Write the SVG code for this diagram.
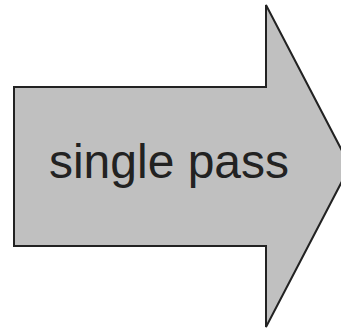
<svg xmlns="http://www.w3.org/2000/svg" width="341" height="329" viewBox="0 0 341 329">
<style>
.arrow{fill:#c0c0c0;stroke:#222222;stroke-width:2;stroke-linejoin:miter}
.label{font-family:"Liberation Sans",Arial,sans-serif;font-size:48px;fill:#222222;text-anchor:middle}
</style>
<rect width="341" height="329" fill="#ffffff"/>
<g id="single-pass-arrow">
<polygon class="arrow" points="14,87 266,87 266,5 350,166 266,327 266,246 14,246"/>
<text class="label" x="169" y="178">single pass</text>
</g>
</svg>
